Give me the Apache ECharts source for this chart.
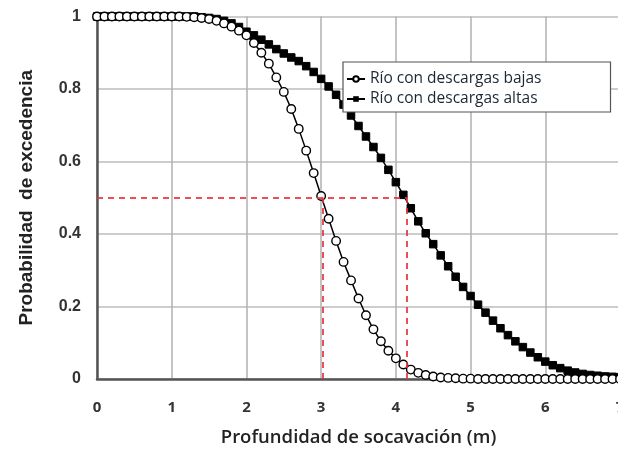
<!DOCTYPE html>
<html><head><meta charset="utf-8">
<script src="https://cdn.jsdelivr.net/npm/echarts@6/dist/echarts.min.js"></script>
<style>html,body{margin:0;padding:0;background:#fff}#c{width:618px;height:460px}</style>
</head><body><div id="c"></div>
<script>
var depth = [0,0.1,0.2,0.3,0.4,0.5,0.6,0.7,0.8,0.9,1,1.1,1.2,1.3,1.4,1.5,1.6,1.7,1.8,1.9,2,2.1,2.2,2.3,2.4,2.5,2.6,2.7,2.8,2.9,3,3.1,3.2,3.3,3.4,3.5,3.6,3.7,3.8,3.9,4,4.1,4.2,4.3,4.4,4.5,4.6,4.7,4.8,4.9,5,5.1,5.2,5.3,5.4,5.5,5.6,5.7,5.8,5.9,6,6.1,6.2,6.3,6.4,6.5,6.6,6.7,6.8,6.9,7];
var probBajas = [1,1,1,1,1,1,1,1,1,1,1,1,0.999,0.998,0.996,0.993,0.988,0.981,0.972,0.961,0.948,0.927,0.900,0.870,0.832,0.792,0.745,0.690,0.630,0.568,0.505,0.442,0.381,0.323,0.272,0.222,0.176,0.137,0.104,0.078,0.057,0.040,0.026,0.017,0.011,0.007,0.004,0.003,0.002,0.001,0.001,0,0,0,0,0,0,0,0,0,0,0,0,0,0,0,0,0,0,0,0];
var probAltas = [1,1,1,1,1,1,1,1,1,1,1,1,1,1,0.998,0.996,0.993,0.988,0.981,0.971,0.958,0.948,0.936,0.923,0.910,0.898,0.887,0.877,0.863,0.847,0.828,0.807,0.784,0.757,0.727,0.698,0.669,0.640,0.610,0.577,0.543,0.508,0.471,0.435,0.402,0.372,0.341,0.311,0.282,0.254,0.229,0.205,0.183,0.161,0.140,0.121,0.104,0.088,0.073,0.060,0.048,0.038,0.030,0.023,0.018,0.014,0.011,0.009,0.007,0.006,0.005];
var seriesNames = ['Río con descargas bajas','Río con descargas altas'];
var refProb = 0.5;
var refDepth = [3.02, 4.15];

function pairs(xs, ys){ return xs.map(function(x,i){ return [x, ys[i]]; }); }

var chart = echarts.init(document.getElementById('c'));
var red = {color:'#e8313a', type:[6,5], width:2, opacity:0.85};
chart.setOption({
  animation:false,
  backgroundColor:'#fff',
  grid:{left:97, right:-2, top:16.5, bottom:81, outerBoundsMode:'none', containLabel:false},
  legend:{
    orient:'vertical', left:343, top:62,
    data:seriesNames,
    itemWidth:18, itemHeight:7, itemGap:4,
    backgroundColor:'#fff', borderColor:'#555', borderWidth:1.2, borderRadius:0,
    padding:[9,69,5,3],
    textStyle:{fontFamily:'Open Sans', fontSize:15.5, color:'#1c2733'}
  },
  xAxis:{
    type:'value', min:0, max:7, interval:1,
    name:'Profundidad de socavación (m)', nameLocation:'middle', nameGap:49,
    nameTextStyle:{fontFamily:'Open Sans', fontWeight:600, fontSize:18.5, color:'#222'},
    axisLine:{show:true, lineStyle:{color:'#555', width:2.5}},
    axisTick:{show:false},
    axisLabel:{margin:21, fontFamily:'Open Sans', fontWeight:'bold', fontSize:15, color:'#333'},
    splitLine:{show:true, lineStyle:{color:'#b0b0b0', width:1.5}}
  },
  yAxis:{
    type:'value', min:0, max:1, interval:0.2,
    name:'Probabilidad  de excedencia', nameLocation:'middle', nameGap:61,
    nameTextStyle:{fontFamily:'Liberation Sans', fontWeight:'bold', fontSize:19, color:'#222'},
    axisLine:{show:true, lineStyle:{color:'#555', width:2.5}},
    axisTick:{show:false},
    axisLabel:{margin:16, fontFamily:'Liberation Sans', fontWeight:'bold', fontSize:16, color:'#333',
      formatter:function(v){ return (v===0||v===1)? String(v) : v.toFixed(1); }},
    splitLine:{show:true, lineStyle:{color:'#bdbdbd', width:1.5}}
  },
  series:[
    {
      name:seriesNames[1], type:'line', data:pairs(depth, probAltas),
      symbol:'rect', symbolSize:7.5, showAllSymbol:true,
      lineStyle:{color:'#000', width:1.5}, itemStyle:{color:'#000', borderColor:'#000'},
      z:2
    },
    {
      name:seriesNames[0], type:'line', data:pairs(depth, probBajas),
      symbol:'circle', symbolSize:8.5, showAllSymbol:true,
      lineStyle:{color:'#000', width:1.5}, itemStyle:{color:'#fff', borderColor:'#000', borderWidth:1.4},
      z:3,
      markLine:{
        silent:true, symbol:['none','none'], label:{show:false}, lineStyle:red,
        data:[
          [{coord:[0, refProb]},{coord:[refDepth[1], refProb]}],
          [{coord:[refDepth[0], 0]},{coord:[refDepth[0], refProb]}],
          [{coord:[refDepth[1], 0]},{coord:[refDepth[1], refProb]}]
        ]
      }
    }
  ]
});
</script></body></html>
